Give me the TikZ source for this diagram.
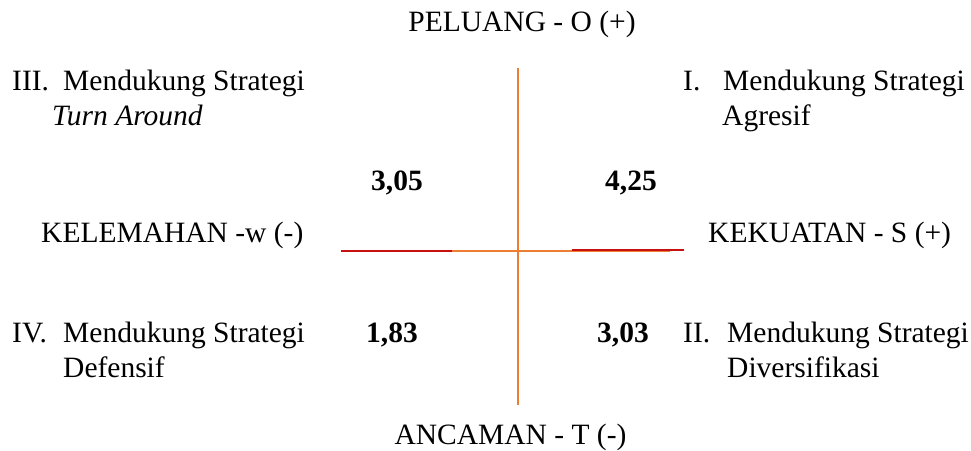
\documentclass[tikz,border=0pt]{standalone}
\usepackage{fontspec}
\setmainfont{Liberation Serif}
\definecolor{axisorange}{RGB}{237,125,49}
\definecolor{axisred}{RGB}{200,16,16}
\begin{document}
\begin{tikzpicture}[x=1pt,y=-1pt,
  lbl/.style={anchor=base west,inner sep=0pt,font=\fontsize{29.5}{35}\selectfont},
  lblc/.style={anchor=base,inner sep=0pt,font=\fontsize{29.5}{35}\selectfont},
  num/.style={anchor=base,inner sep=0pt,font=\fontsize{29.5}{35}\selectfont\bfseries},
  axis/.style={draw=axisorange,line width=1.6pt},
  redseg/.style={draw=axisred,line width=2pt}]
\useasboundingbox (0,0) rectangle (971,450);
% axes
\coordinate (vtop) at (517.7,68);
\coordinate (vbot) at (517.7,405);
\coordinate (hl) at (341,251);
\coordinate (hr) at (670,251);
\coordinate (rl1) at (341,251);
\coordinate (rl2) at (452,251);
\coordinate (rr1) at (572,249.5);
\coordinate (rr2) at (684,249.5);
\draw[axis] (vtop) -- (vbot);
\draw[axis] (hl) -- (hr);
\draw[redseg] (rl1) -- (rl2);
\draw[redseg] (rr1) -- (rr2);
% labels
\node[lblc] (peluang) at (522,31) {PELUANG - O (+)};
\node[lblc] (ancaman) at (510.5,444) {ANCAMAN - T (-)};
\node[lbl] (kelemahan) at (41,242) {KELEMAHAN -w (-)};
\node[lbl] (kekuatan) at (708,242) {KEKUATAN - S (+)};
% quadrant III
\node[lbl] (q3n) at (12,90) {III.};
\node[lbl] (q3a) at (63,90) {Mendukung Strategi};
\node[lbl] (q3b) at (52,125) {\itshape Turn Around};
% quadrant I
\node[lbl] (q1n) at (683,90) {I.};
\node[lbl] (q1a) at (723,90) {Mendukung Strategi};
\node[lbl] (q1b) at (722,125) {Agresif};
% quadrant IV
\node[lbl] (q4n) at (12,342) {IV.};
\node[lbl] (q4a) at (63,342) {Mendukung Strategi};
\node[lbl] (q4b) at (63,377) {Defensif};
% quadrant II
\node[lbl] (q2n) at (683,342) {II.};
\node[lbl] (q2a) at (727,342) {Mendukung Strategi};
\node[lbl] (q2b) at (727,377) {Diversifikasi};
% numbers
\node[num] (n305) at (397,190) {3,05};
\node[num] (n425) at (631,190) {4,25};
\node[num] (n183) at (392,342) {1,83};
\node[num] (n303) at (623,342) {3,03};
\end{tikzpicture}
\end{document}
